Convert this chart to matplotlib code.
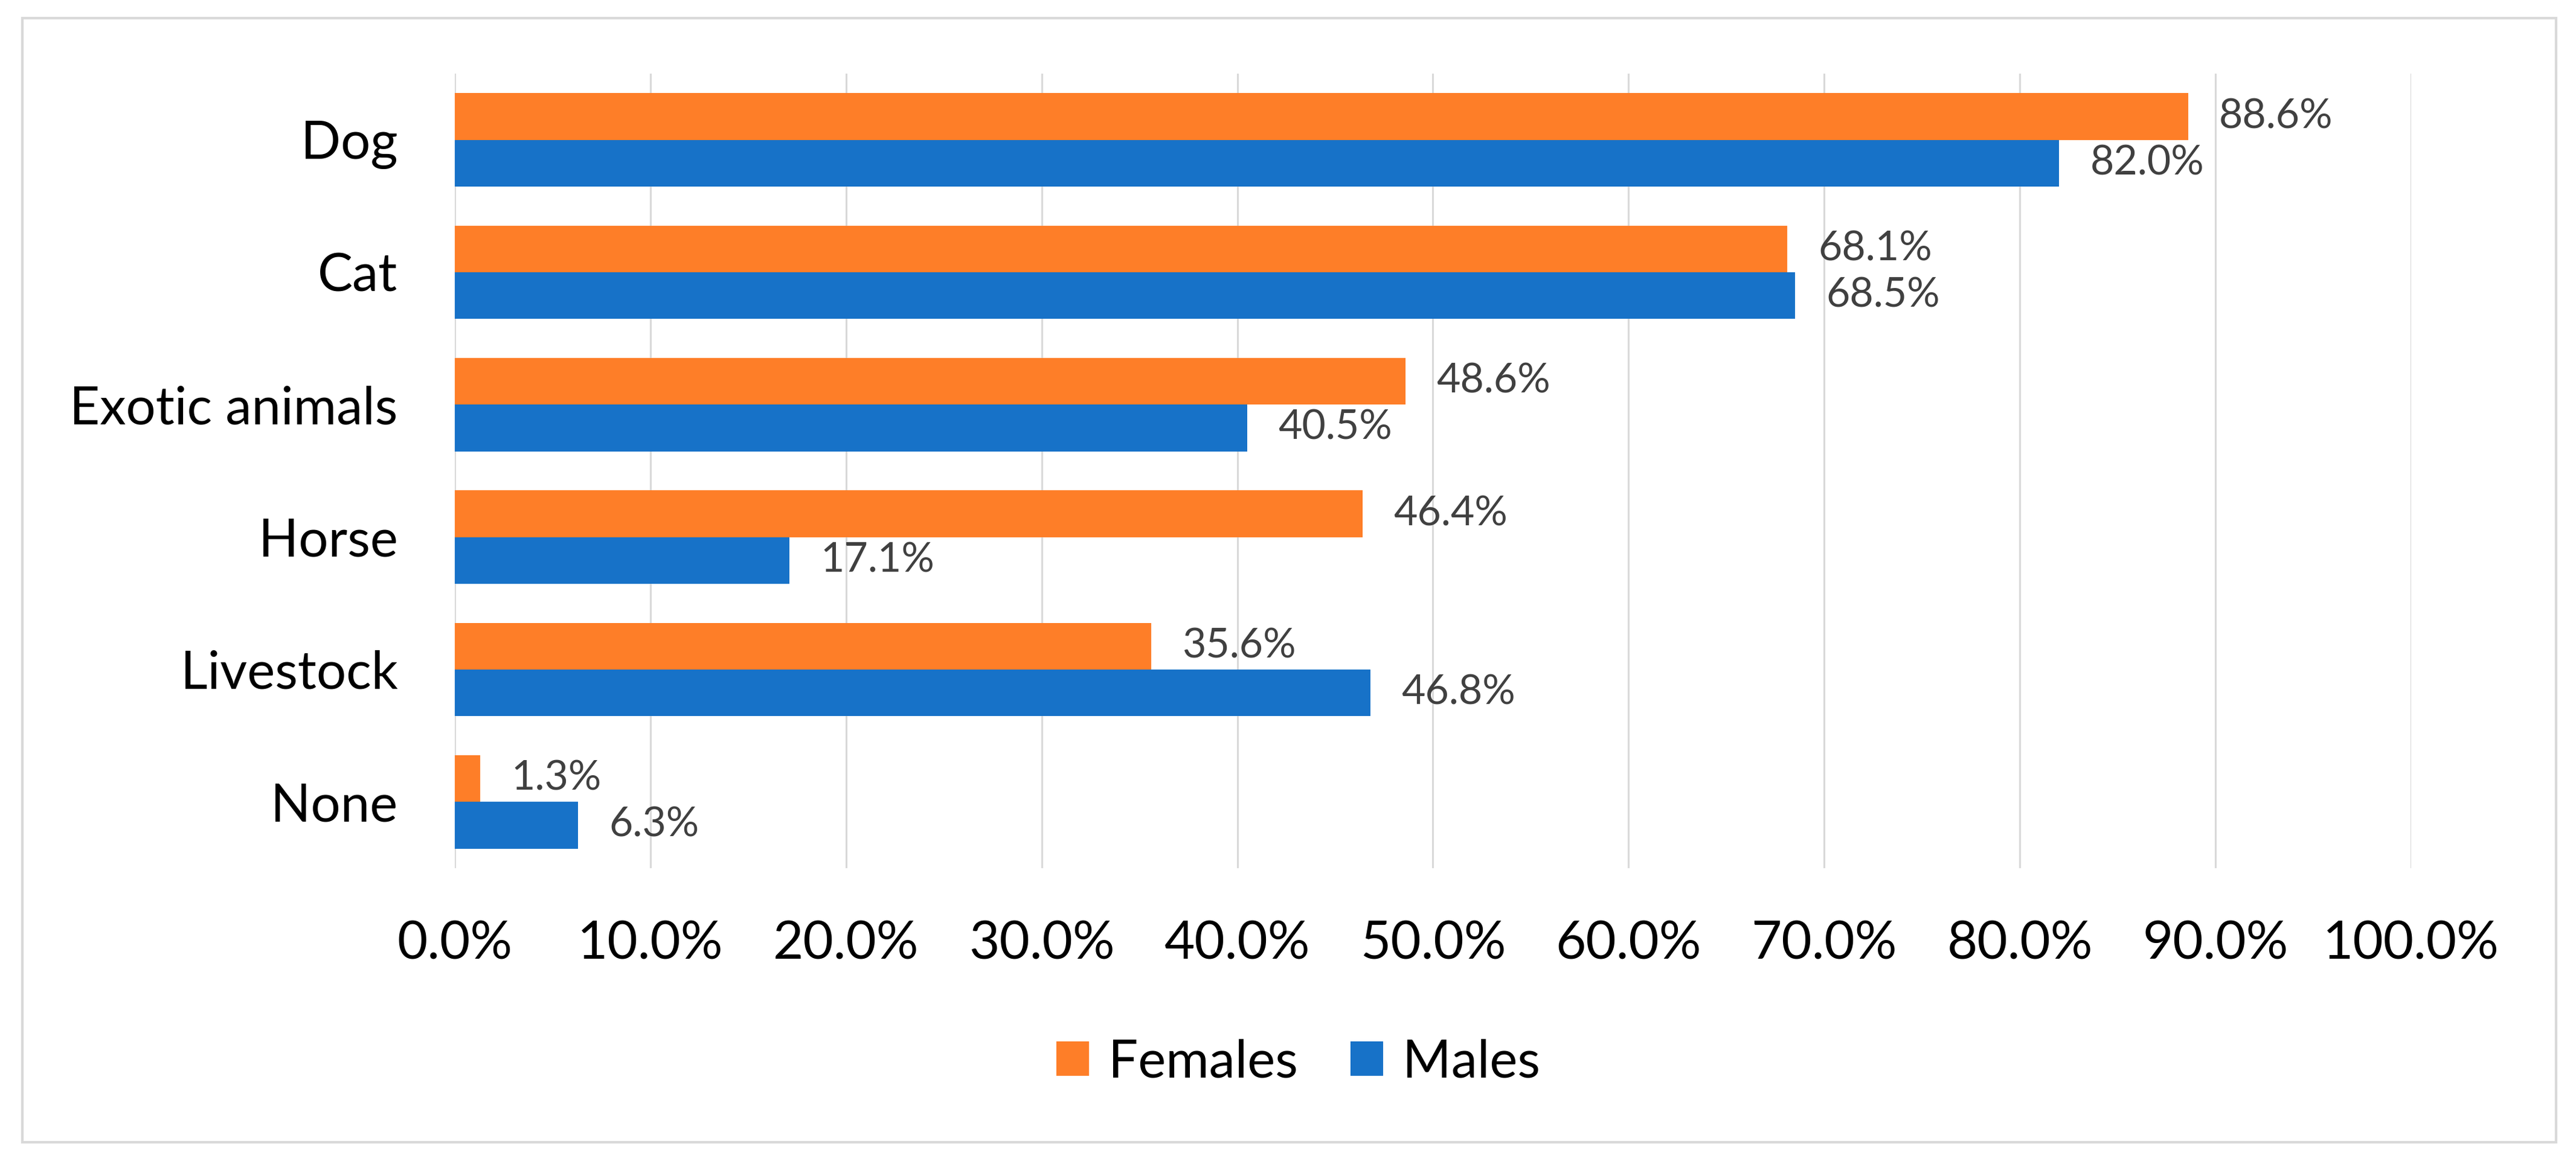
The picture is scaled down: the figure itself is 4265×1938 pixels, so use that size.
import matplotlib.pyplot as plt
from matplotlib.patches import Rectangle

# data (percent)
categories = ["Dog", "Cat", "Exotic animals", "Horse", "Livestock", "None"]
females = [88.6, 68.1, 48.6, 46.4, 35.6, 1.3]
males = [82.0, 68.5, 40.5, 17.1, 46.8, 6.3]
xticks = [0, 10, 20, 30, 40, 50, 60, 70, 80, 90, 100]

orange = '#FE7E28'
blue = '#1772C8'
grid_col = '#D9D9D9'

plt.rcParams['font.family'] = ['Lato', 'DejaVu Sans']

fig = plt.figure(figsize=(42.65, 19.38), dpi=100)
ax = fig.add_axes([0.17655, 0.25800, 0.75944, 0.67905])

# outer chart border
fig.patches.append(Rectangle((37/4265, 1 - 1892/1938), (4232-37)/4265, (1892-30)/1938,
                             transform=fig.transFigure, fill=False,
                             edgecolor=grid_col, linewidth=3))

h = 0.352
ypos = list(range(len(categories)))
ax.barh([y - h/2 for y in ypos], females, height=h, color=orange, label='Females', zorder=3)
ax.barh([y + h/2 for y in ypos], males, height=h, color=blue, label='Males', zorder=3)

# value labels
for i in range(len(categories)):
    ax.annotate(f"{females[i]:.1f}%", (females[i], i - h/2), xytext=(37, 0),
                textcoords='offset points', va='center', ha='left',
                fontsize=49, color='#404040')
    ax.annotate(f"{males[i]:.1f}%", (males[i], i + h/2), xytext=(37, 0),
                textcoords='offset points', va='center', ha='left',
                fontsize=49, color='#404040')

ax.set_xlim(0, 100)
ax.set_ylim(5.5, -0.5)
ax.set_xticks(xticks)
ax.set_xticklabels([f"{t:.1f}%" for t in xticks], fontsize=62.6, color='black')
ax.set_yticks(ypos)
ax.set_yticklabels(categories, fontsize=62.6, color='black')
ax.tick_params(axis='x', length=0, pad=62)
ax.tick_params(axis='y', length=0, pad=68)
ax.grid(axis='x', color=grid_col, linewidth=2.2, zorder=0)
ax.set_axisbelow(True)
for s in ax.spines.values():
    s.set_visible(False)

fig.legend(loc='center', bbox_to_anchor=(0.504, 0.092), ncol=2, frameon=False,
           fontsize=62.6, handlelength=0.62, handleheight=0.63,
           handletextpad=0.37, columnspacing=1.0, borderpad=0)

fig.savefig("out.png", dpi=100)
